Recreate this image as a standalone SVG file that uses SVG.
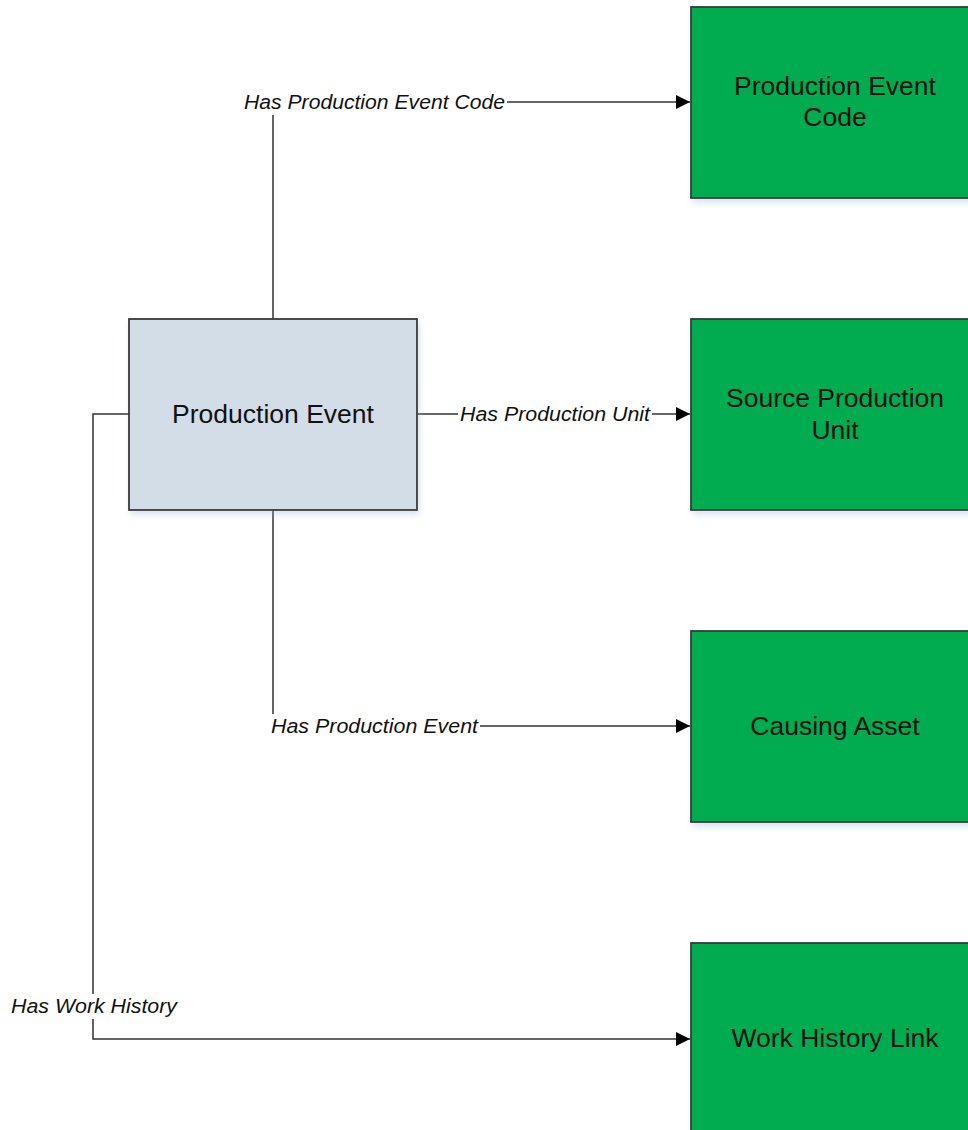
<svg xmlns="http://www.w3.org/2000/svg" width="968" height="1130" viewBox="0 0 968 1130">
<style>
.node{stroke:#3a3a3a;stroke-width:1.8}
.src{fill:#d3dde7}
.tgt{fill:#00ac4f}
.ntext{font-family:"Liberation Sans",Arial,sans-serif;font-size:26.5px;fill:#111;text-anchor:middle}
.conn{fill:none;stroke:#333;stroke-width:1.5}
.lbl{font-family:"Liberation Sans",Arial,sans-serif;font-size:20px;font-style:italic;fill:#111}
.lblbg{fill:#fff}
</style>
<defs>
<marker id="arrow" markerUnits="userSpaceOnUse" markerWidth="14" markerHeight="14" viewBox="0 0 14 14" refX="14" refY="7" orient="auto">
<path d="M0,0 L14,7 L0,14 Z" fill="#000"/>
</marker>
<filter id="sh" x="-10%" y="-10%" width="130%" height="130%">
<feDropShadow dx="2" dy="4" stdDeviation="3" flood-color="#9bb4d4" flood-opacity="0.35"/>
</filter>
</defs>
<rect width="968" height="1130" fill="#fff"/>
<g id="connectors">
<path class="conn" d="M273,319 V102 H690" marker-end="url(#arrow)"/>
<path class="conn" d="M417,414 H690" marker-end="url(#arrow)"/>
<path class="conn" d="M273,510 V726 H690" marker-end="url(#arrow)"/>
<path class="conn" d="M129,414 H93 V1039 H690" marker-end="url(#arrow)"/>
<rect class="lblbg" x="242" y="90" width="265" height="25"/>
<text class="lbl" x="244" y="109" textLength="261" lengthAdjust="spacingAndGlyphs">Has Production Event Code</text>
<rect class="lblbg" x="458" y="402" width="194" height="25"/>
<text class="lbl" x="460" y="421" textLength="190" lengthAdjust="spacingAndGlyphs">Has Production Unit</text>
<rect class="lblbg" x="269" y="714" width="211" height="25"/>
<text class="lbl" x="271" y="733" textLength="207" lengthAdjust="spacingAndGlyphs">Has Production Event</text>
<rect class="lblbg" x="9" y="994" width="170" height="25"/>
<text class="lbl" x="11" y="1013" textLength="166" lengthAdjust="spacingAndGlyphs">Has Work History</text>
</g>
<g id="production-event">
<rect class="node src" x="129" y="319" width="288" height="191" filter="url(#sh)"/>
<text class="ntext" x="273" y="423">Production Event</text>
</g>
<g id="production-event-code">
<rect class="node tgt" x="691" y="7" width="288" height="191" filter="url(#sh)"/>
<text class="ntext" x="835" y="95">Production Event</text>
<text class="ntext" x="835" y="126">Code</text>
</g>
<g id="source-production-unit">
<rect class="node tgt" x="691" y="319" width="288" height="191" filter="url(#sh)"/>
<text class="ntext" x="835" y="407">Source Production</text>
<text class="ntext" x="835" y="439">Unit</text>
</g>
<g id="causing-asset">
<rect class="node tgt" x="691" y="631" width="288" height="191" filter="url(#sh)"/>
<text class="ntext" x="835" y="735">Causing Asset</text>
</g>
<g id="work-history-link">
<rect class="node tgt" x="691" y="943" width="288" height="191" filter="url(#sh)"/>
<text class="ntext" x="835" y="1047">Work History Link</text>
</g>
</svg>
